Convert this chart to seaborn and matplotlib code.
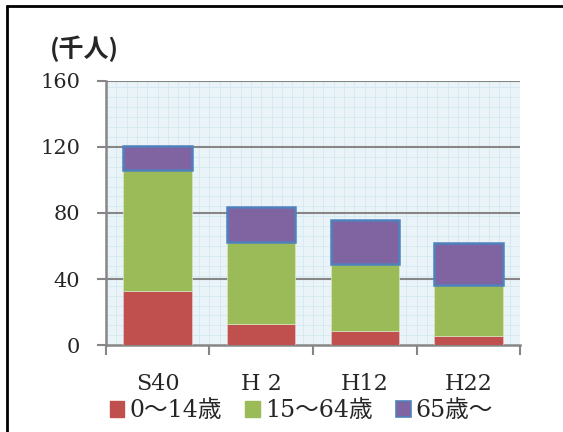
import matplotlib.pyplot as plt
import matplotlib.patches as mpatches
import numpy as np
import seaborn as sns

# population by age group (thousand people)
years = ["S40", "H 2", "H12", "H22"]
age_0_14 = [32.7, 12.7, 8.5, 5.5]
age_15_64 = [73.5, 49.7, 40.5, 30.9]
age_65 = [14.4, 21.2, 26.8, 25.4]
labels = ["0～14歳", "15～64歳", "65歳～"]

red = "#C0504D"
green = "#9BBB59"
purple = "#8064A2"
blue_edge = "#4F81BD"

sns.set_style("white")
plt.rcParams["font.family"] = ["DejaVu Serif", "Noto Sans CJK JP"]

fig = plt.figure(figsize=(5.63, 4.32), dpi=100)
ax = fig.add_axes([0.188, 0.201, 0.736, 0.612])
ax.set_facecolor("#EAF4F8")

# fine background grid (texture of the original plot area)
for gx in np.arange(-0.5, 3.55, 0.1):
    ax.axvline(gx, color="#D3E9F1", lw=0.6, zorder=0)
for gy in np.arange(0, 161, 6):
    ax.axhline(gy, color="#D3E9F1", lw=0.6, zorder=0)
for gy in [40, 80, 120, 160]:
    ax.axhline(gy, color="#868686", lw=1.5, zorder=1)

bottom2 = np.array(age_0_14)
bottom3 = bottom2 + np.array(age_15_64)

sns.barplot(x=years, y=age_0_14, color=red, width=0.66, saturation=1,
            edgecolor="#E8C8C6", linewidth=0.5, zorder=3, ax=ax)
sns.barplot(x=years, y=age_15_64, bottom=bottom2, color=green, width=0.66,
            saturation=1, edgecolor="#D9E6C4", linewidth=0.5, zorder=3, ax=ax)
sns.barplot(x=years, y=age_65, bottom=bottom3, color=purple, width=0.66,
            saturation=1, edgecolor=blue_edge, linewidth=1.8, zorder=4, ax=ax)

ax.set_xlim(-0.5, 3.5)
ax.set_ylim(0, 160)
ax.set_yticks([0, 40, 80, 120, 160])
ax.set_xticks([-0.5, 0.5, 1.5, 2.5, 3.5])
ax.set_xticklabels([])
ax.set_xticks(range(len(years)), minor=True)
ax.set_xticklabels(years, minor=True, fontsize=16)
ax.tick_params(axis="x", which="minor", length=0, pad=20)
ax.tick_params(axis="x", which="major", length=7, width=1.5, color="#868686",
               direction="out", bottom=True)
ax.tick_params(axis="y", length=6.5, width=1.5, color="#868686", pad=12,
               labelsize=15, direction="out", left=True)
ax.set_xlabel("")
ax.set_ylabel("")

for side in ["top", "right"]:
    ax.spines[side].set_visible(False)
for side in ["left", "bottom"]:
    ax.spines[side].set_color("#868686")
    ax.spines[side].set_linewidth(1.8)

fig.text(0.089, 0.888, "(千人)", fontsize=18, fontweight="bold",
         family=["Noto Sans CJK JP", "DejaVu Sans"], va="center")

handles = [mpatches.Patch(facecolor=red, edgecolor=red),
           mpatches.Patch(facecolor=green, edgecolor=green),
           mpatches.Patch(facecolor=purple, edgecolor=blue_edge, linewidth=1.2)]
fig.legend(handles, labels, loc="center", bbox_to_anchor=(0.535, 0.049), ncol=3,
           frameon=False, fontsize=17, handlelength=0.62, handleheight=0.62,
           handletextpad=0.2, columnspacing=1.0, borderaxespad=0)

# frame around the figure (only top and left visible in original)
fig.add_artist(plt.Line2D([0.012, 1.0], [0.987, 0.987], color="black", lw=2))
fig.add_artist(plt.Line2D([0.012, 0.012], [0.0, 0.987], color="black", lw=2))

fig.savefig("out.png", dpi=100)
